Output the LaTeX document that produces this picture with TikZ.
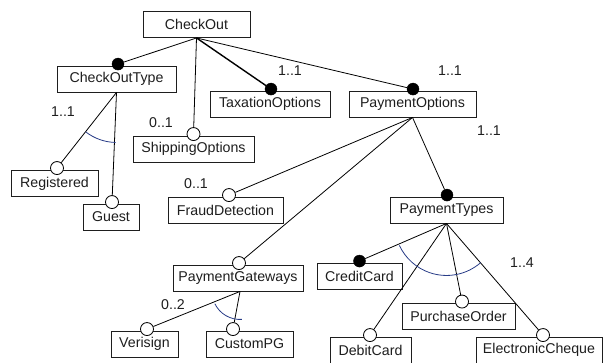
\documentclass[tikz,border=0pt]{standalone}
\usepackage{fontspec}
\setmainfont{Liberation Sans}
\usetikzlibrary{positioning, calc}
\definecolor{arcblue}{RGB}{40,60,135}
\definecolor{inkgray}{RGB}{30,30,30}

\begin{document}
\begin{tikzpicture}[x=1pt, y=-1pt,
    feature/.style={draw=inkgray, line width=0.9pt, minimum height=26pt, inner sep=0pt,
        fill=white, text=inkgray, font=\fontsize{14.2}{16}\selectfont},
    mand/.style={circle, draw=black, fill=black, minimum size=12pt, inner sep=0pt},
    opt/.style={circle, draw=black, fill=white, line width=0.8pt, minimum size=13pt, inner sep=0pt},
    link/.style={line width=0.8pt},
    card/.style={text=inkgray, inner sep=0pt, font=\fontsize{14.2}{16}\selectfont},
    group/.style={draw=arcblue, line width=0.8pt}]
            \useasboundingbox (0,0) rectangle (605,362);

            % 1. Feature boxes
            \node[feature, minimum width=107pt] (checkout) at (196.5,24.5) {CheckOut};
            \node[feature, minimum width=119pt] (type) at (116.5,79) {CheckOutType};
            \node[feature, minimum width=121pt] (ship) at (193.5,149) {ShippingOptions};
            \node[feature, minimum width=120pt] (tax) at (270,104) {TaxationOptions};
            \node[feature, minimum width=127pt] (payopt) at (412.5,104) {PaymentOptions};
            \node[feature, minimum width=87pt] (reg) at (54.5,183.5) {Registered};
            \node[feature, minimum width=56pt] (guest) at (111,217) {Guest};
            \node[feature, minimum width=115pt] (fraud) at (225.5,210) {FraudDetection};
            \node[feature, minimum width=130pt] (gate) at (238,278) {PaymentGateways};
            \node[feature, minimum width=113pt] (paytype) at (446.5,210) {PaymentTypes};
            \node[feature, minimum width=85pt] (credit) at (359.5,276) {CreditCard};
            \node[feature, minimum width=113pt] (purchase) at (458.5,316) {PurchaseOrder};
            \node[feature, minimum width=67pt] (veri) at (144.5,344) {Verisign};
            \node[feature, minimum width=87pt] (custom) at (249.5,344) {CustomPG};
            \node[feature, minimum width=81pt] (debit) at (370.5,350) {DebitCard};
            \node[feature, minimum width=126pt] (cheque) at (539,350) {ElectronicCheque};

            % 2. Mandatory (filled) and optional (open) markers
            \node[mand] (typeC) at ([xshift=1.5pt, yshift=1.5pt]type.north) {};
            \node[mand] (taxC) at ([xshift=1pt, yshift=1.5pt]tax.north) {};
            \node[mand] (payoptC) at ([xshift=0.5pt, yshift=1.5pt]payopt.north) {};
            \node[mand] (paytypeC) at ([xshift=0.5pt, yshift=1.5pt]paytype.north) {};
            \node[mand] (creditC) at ([yshift=1.5pt]credit.north) {};
            \node[opt] (shipC) at ([yshift=1.5pt]ship.north) {};
            \node[opt] (regC) at ([xshift=2.5pt, yshift=2pt]reg.north) {};
            \node[opt] (guestC) at ([xshift=1pt, yshift=1.5pt]guest.north) {};
            \node[opt] (fraudC) at ([xshift=3.5pt, yshift=1.5pt]fraud.north) {};
            \node[opt] (gateC) at ([xshift=1pt, yshift=1.5pt]gate.north) {};
            \node[opt] (purchaseC) at ([xshift=3.5pt, yshift=1pt]purchase.north) {};
            \node[opt] (veriC) at ([xshift=2.5pt, yshift=1.5pt]veri.north) {};
            \node[opt] (customC) at ([xshift=-16.5pt, yshift=1.5pt]custom.north) {};
            \node[opt] (debitC) at ([xshift=-0.5pt, yshift=1.5pt]debit.north) {};
            \node[opt] (chequeC) at ([xshift=4pt, yshift=1.5pt]cheque.north) {};

            % 3. Links
            \draw[link] (checkout.south) -- (typeC);
            \draw[link] (checkout.south) -- (shipC);
            \draw[link, line width=1.4pt] (checkout.south) -- (taxC);
            \draw[link] (checkout.south) -- (payoptC);
            \draw[link] (type.south) -- (regC);
            \draw[link] (type.south) -- (guestC);
            \draw[link] (payopt.south) -- (fraudC);
            \draw[link] (payopt.south) -- (gateC);
            \draw[link] (payopt.south) -- (paytypeC);
            \draw[link] ([xshift=2pt]gate.south) -- (veriC);
            \draw[link] ([xshift=2pt]gate.south) -- (customC);
            \draw[link] (paytype.south) -- (creditC);
            \draw[link] (paytype.south) -- (purchaseC);
            \draw[link] (paytype.south) -- (debitC);
            \draw[link] (paytype.south) -- (chequeC);

            % 4. Group arcs
            \draw[group] ($(type.south)+(91:50)$) arc[start angle=91, end angle=128, radius=50];
            \draw[group] ($([xshift=2pt]gate.south)+(86:28)$) arc[start angle=86, end angle=154, radius=28];
            \draw[group] ($(paytype.south)+(49:52)$) arc[start angle=49, end angle=155, radius=52];

            % 5. Cardinalities
            \node[card] (typeN) at (63,112) {1..1};
            \node[card] (shipN) at (161,123) {0..1};
            \node[card] (taxN) at (290,71) {1..1};
            \node[card] (payoptN) at (450,71) {1..1};
            \node[card] (paytypeN) at (489,131) {1..1};
            \node[card] (fraudN) at (196,184) {0..1};
            \node[card] (gateN) at (173,305) {0..2};
            \node[card] (groupN) at (522,263) {1..4};
        \end{tikzpicture}
\end{document}
